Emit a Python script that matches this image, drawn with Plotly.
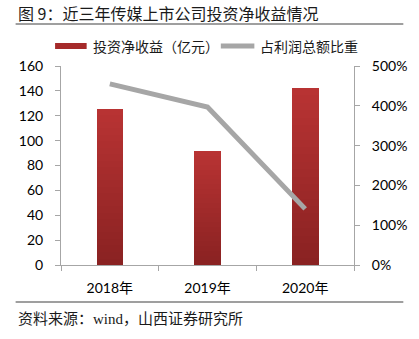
import plotly.graph_objects as go

years = ["2018年", "2019年", "2020年"]
invest_income = [125.5, 91.7, 142.3]   # 亿元
profit_share = [455, 397, 141]          # %

W, H = 419, 339
L, R, T, B = 61, 358, 66, 265  # plot area pixels


def px(x):
    return (x - L) / (R - L)


def py(y):
    return (B - y) / (B - T)


def lerp(c1, c2, t):
    return "rgb(%d,%d,%d)" % tuple(round(a + (b - a) * t) for a, b in zip(c1, c2))


dark = (0x8A, 0x22, 0x22)
light = (0xB8, 0x33, 0x33)
N = 24

fig = go.Figure()
for i in range(N):
    fig.add_trace(go.Bar(
        x=years, y=[v / N for v in invest_income],
        marker=dict(color=lerp(dark, light, i / (N - 1)), line=dict(width=0)),
        showlegend=False, hoverinfo="skip",
    ))

fig.add_trace(go.Scatter(
    x=years, y=profit_share, yaxis="y2", mode="lines",
    line=dict(color="#A6A6A6", width=5), showlegend=False,
))

font_cjk = "Noto Sans CJK SC, sans-serif"
axis_col = "#A6A6A6"
tick_font = dict(family="Lato, Noto Sans CJK SC", size=14, color="#000000")

fig.update_layout(
    width=W, height=H,
    margin=dict(l=L, r=W - R, t=T, b=H - B),
    paper_bgcolor="white", plot_bgcolor="white",
    barmode="stack", bargap=0.727,
    showlegend=False,
    xaxis=dict(
        type="category", tickson="boundaries", ticks="outside", ticklen=5,
        tickcolor=axis_col, showline=True, linecolor=axis_col, linewidth=1,
        showgrid=False, tickfont=tick_font, ticklabelstandoff=10,
    ),
    yaxis=dict(
        range=[0, 160], dtick=20, ticks="outside", ticklen=5, tickcolor=axis_col,
        showline=True, linecolor=axis_col, linewidth=1, showgrid=False,
        zeroline=False, tickfont=tick_font, ticklabelstandoff=9,
    ),
    yaxis2=dict(
        range=[0, 500], dtick=100, ticksuffix="%", overlaying="y", side="right",
        ticks="outside", ticklen=5, tickcolor=axis_col, showline=True,
        linecolor=axis_col, linewidth=1, showgrid=False, zeroline=False,
        tickfont=tick_font, ticklabelstandoff=9,
    ),
    shapes=[
        dict(type="line", xref="paper", yref="paper", x0=px(15), x1=px(408),
             y0=py(24), y1=py(24), line=dict(color="#404040", width=1.2)),
        dict(type="line", xref="paper", yref="paper", x0=px(15), x1=px(408),
             y0=py(302), y1=py(302), line=dict(color="#404040", width=1.2)),
        dict(type="rect", xref="paper", yref="paper", x0=px(55), x1=px(87),
             y0=py(49), y1=py(43), fillcolor="#A52A2A", line=dict(width=0)),
        dict(type="line", xref="paper", yref="paper", x0=px(223), x1=px(257),
             y0=py(46), y1=py(46), line=dict(color="#A6A6A6", width=5)),
    ],
    annotations=[
        dict(text="图 9：近三年传媒上市公司投资净收益情况", xref="paper", yref="paper",
             x=px(15), y=py(13), xanchor="left", yanchor="middle", showarrow=False,
             font=dict(family=font_cjk, size=16, color="#1a1a1a")),
        dict(text="投资净收益（亿元）", xref="paper", yref="paper",
             x=px(91), y=py(46), xanchor="left", yanchor="middle", showarrow=False,
             font=dict(family=font_cjk, size=14, color="#1a1a1a")),
        dict(text="占利润总额比重", xref="paper", yref="paper",
             x=px(261), y=py(46), xanchor="left", yanchor="middle", showarrow=False,
             font=dict(family=font_cjk, size=14, color="#1a1a1a")),
        dict(text="资料来源：<span style='font-family:Liberation Serif'>wind</span>，山西证券研究所",
             xref="paper", yref="paper",
             x=px(15), y=py(317), xanchor="left", yanchor="middle", showarrow=False,
             font=dict(family=font_cjk, size=15, color="#1a1a1a")),
    ],
)

fig.write_html("out.html")
